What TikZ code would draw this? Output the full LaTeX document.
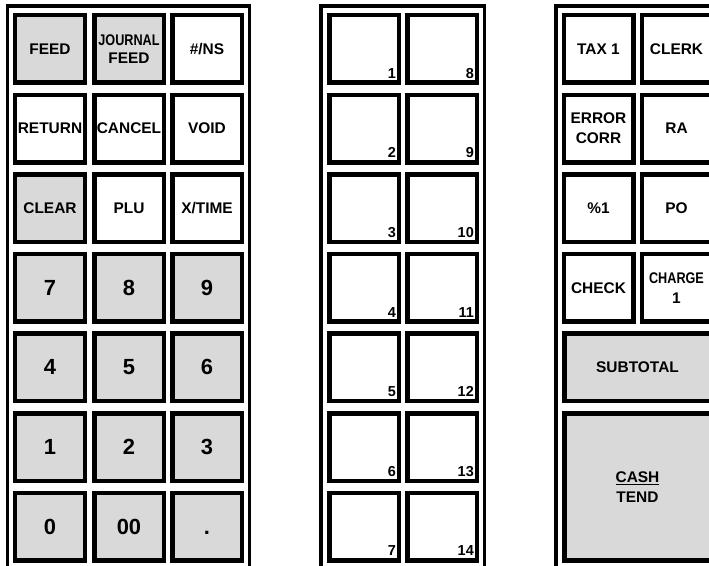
\documentclass[tikz,border=0pt]{standalone}
\usepackage{fontspec}
\usepackage{graphicx}
\setmainfont{Liberation Sans}
\definecolor{keygray}{RGB}{217,217,217}
\begin{document}
\begin{tikzpicture}[
      x=1bp, y=-1bp,
      key/.style={draw, line width=4.5bp, minimum width=69.5bp, minimum height=67.5bp,
        inner sep=0pt, align=center, font=\bfseries\fontsize{15.5}{20}\selectfont},
      graykey/.style={key, fill=keygray},
      digit/.style={graykey, font=\bfseries\fontsize{22}{24}\selectfont},
      wide/.style={graykey, minimum width=146.5bp},
      num/.style={anchor=south east, inner xsep=5bp, inner ysep=6.5bp,
        font=\bfseries\fontsize{14.5}{16}\selectfont},
      frame/.style={line width=3.5bp}
    ]
    \useasboundingbox (0,0) rectangle (709,566);
    \clip (0,0) rectangle (709,566);

    % Panel frames
    \draw[frame] (7.5,600) -- (7.5,6) -- (249.5,6) -- (249.5,600);
    \draw[frame] (321,600) -- (321,6) -- (484.5,6) -- (484.5,600);
    \draw[frame] (556,600) -- (556,6) -- (730,6);

    % Left panel: function and numeric keys
    \node[graykey] (feed)   at (50,49)    {FEED};
    \node[graykey, font=\bfseries\fontsize{15.5}{17.5}\selectfont]
                   (jfeed)  at (129,49)   {\scalebox{0.82}[1]{JOURNAL}\\FEED};
    \node[key]     (ns)     at (207,49)   {\#/NS};
    \node[key]     (ret)    at (50,128.6) {RETURN};
    \node[key]     (cancel) at (129,128.6){CANCEL};
    \node[key]     (void)   at (207,128.6){VOID};
    \node[graykey] (clear)  at (50,208.2) {CLEAR};
    \node[key]     (plu)    at (129,208.2){PLU};
    \node[key]     (xtime)  at (207,208.2){X/TIME};
    \node[digit]   (d7)     at (50,287.8) {7};
    \node[digit]   (d8)     at (129,287.8){8};
    \node[digit]   (d9)     at (207,287.8){9};
    \node[digit]   (d4)     at (50,367.4) {4};
    \node[digit]   (d5)     at (129,367.4){5};
    \node[digit]   (d6)     at (207,367.4){6};
    \node[digit]   (d1)     at (50,447)   {1};
    \node[digit]   (d2)     at (129,447)  {2};
    \node[digit]   (d3)     at (207,447)  {3};
    \node[digit]   (d0)     at (50,526.6) {0};
    \node[digit]   (d00)    at (129,526.6){00};
    \node[digit]   (dot)    at (207,526.6){.\vphantom{0}};

    % Middle panel: preset keys
    \node[key, label={[num]south east:1}]  (m1)  at (364,49)    {};
    \node[key, label={[num]south east:2}]  (m2)  at (364,128.6) {};
    \node[key, label={[num]south east:3}]  (m3)  at (364,208.2) {};
    \node[key, label={[num]south east:4}]  (m4)  at (364,287.8) {};
    \node[key, label={[num]south east:5}]  (m5)  at (364,367.4) {};
    \node[key, label={[num]south east:6}]  (m6)  at (364,447)   {};
    \node[key, label={[num]south east:7}]  (m7)  at (364,526.6) {};
    \node[key, label={[num]south east:8}]  (m8)  at (442,49)    {};
    \node[key, label={[num]south east:9}]  (m9)  at (442,128.6) {};
    \node[key, label={[num]south east:10}] (m10) at (442,208.2) {};
    \node[key, label={[num]south east:11}] (m11) at (442,287.8) {};
    \node[key, label={[num]south east:12}] (m12) at (442,367.4) {};
    \node[key, label={[num]south east:13}] (m13) at (442,447)   {};
    \node[key, label={[num]south east:14}] (m14) at (442,526.6) {};

    % Right panel: tender keys
    \node[key]     (tax)    at (598.5,49)    {TAX 1};
    \node[key]     (clerk)  at (676.5,49)    {CLERK};
    \node[key]     (corr)   at (598.5,128.6) {ERROR\\CORR};
    \node[key]     (ra)     at (676.5,128.6) {RA};
    \node[key]     (pct)    at (598.5,208.2) {\%1};
    \node[key]     (po)     at (676.5,208.2) {PO};
    \node[key]     (check)  at (598.5,287.8) {CHECK};
    \node[key]     (charge) at (676.5,287.8) {\scalebox{0.82}[1]{CHARGE}\\1};
    \node[wide]    (subtotal) at (637.5,367.4) {SUBTOTAL};
    \node[wide, minimum height=147bp]
                   (cash)   at (637.5,486.8) {\underline{CASH}\\TEND};
  \end{tikzpicture}
\end{document}
